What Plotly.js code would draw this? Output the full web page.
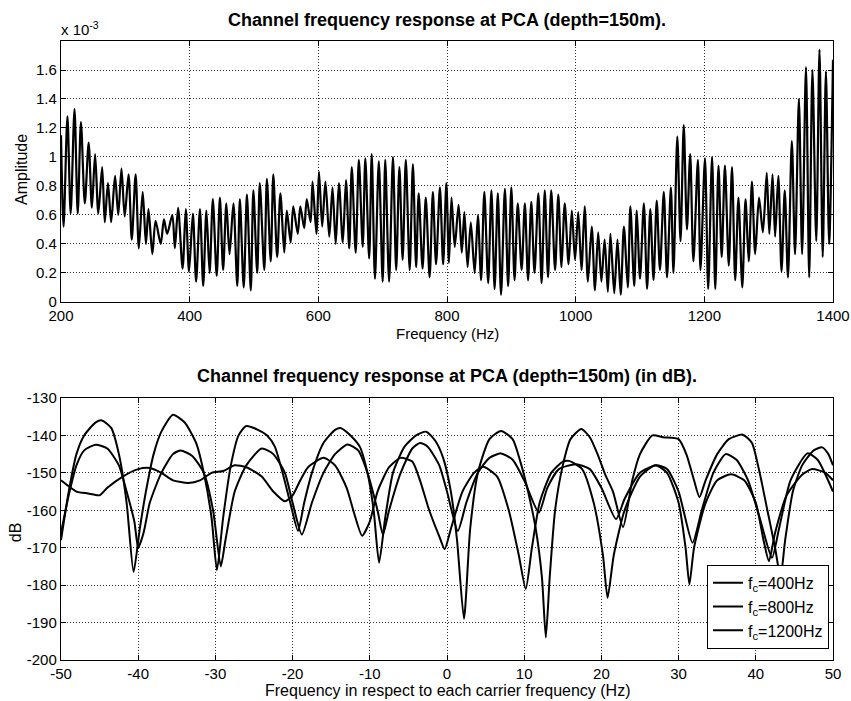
<!DOCTYPE html>
<html>
<head>
<meta charset="utf-8">
<script src="https://cdn.plot.ly/plotly-3.0.1.min.js"></script>
<style>html,body{margin:0;padding:0;background:#fff;}#chart{width:851px;height:701px;}</style>
</head>
<body>
<div id="chart"></div>
<script>
// ---- Top panel: amplitude (x 10^-3) vs frequency, read peak/trough by peak/trough ----
const topFreq = [200,204,210,215,221,226,231,237,243,248,253,258,264,268,273,278,284,289,294,299,305,310,316,321,327,332,336,342,347,355,360,365,373,377,382,389,394,399,
405,410,416,421,426,431,436,442,447,452,457,462,468,474,478,484,489,495,499,505,509,516,520,526,530,536,541,547,551,557,561,568,572,578,582,588,591,597,601,
606,611,617,622,627,632,638,643,648,652,658,663,669,673,679,683,688,694,700,704,710,716,721,726,731,736,742,747,752,756,762,767,773,778,783,789,794,799,803,
807,812,818,823,827,832,837,843,848,853,858,864,869,874,879,884,890,895,900,905,910,916,921,926,931,936,942,947,952,957,962,968,973,978,983,989,994,999,1004,
1009,1014,1019,1025,1030,1035,1040,1045,1050,1054,1060,1065,1070,1075,1081,1085,1091,1095,1100,1106,1111,1116,1121,1126,1131,1137,1142,1148,1152,1158,1163,1168,1173,1178,1183,1190,1194,1201,
1206,1212,1217,1222,1227,1232,1238,1243,1248,1253,1259,1264,1269,1274,1279,1285,1291,1297,1301,1306,1310,1315,1320,1325,1330,1336,1341,1347,1352,1358,1363,1368,1374,1379,1384,1389,1394,1400];
const topAmp = [1.15,0.52,1.28,0.61,1.33,0.61,1.24,0.68,1.10,0.65,1.02,0.61,0.93,0.55,0.82,0.55,0.87,0.60,0.92,0.59,0.88,0.43,0.88,0.37,0.76,0.40,0.64,0.33,0.56,0.40,0.57,0.47,0.60,0.37,0.65,0.23,0.64,0.21,
0.61,0.14,0.64,0.11,0.63,0.20,0.71,0.18,0.72,0.22,0.68,0.33,0.68,0.11,0.71,0.10,0.74,0.08,0.77,0.20,0.82,0.22,0.85,0.28,0.88,0.31,0.75,0.34,0.63,0.41,0.66,0.47,0.66,0.51,0.71,0.55,0.83,0.47,0.90,
0.52,0.83,0.45,0.79,0.40,0.82,0.41,0.84,0.37,0.93,0.34,0.98,0.38,0.99,0.30,1.02,0.16,0.97,0.14,0.98,0.14,1.00,0.22,0.93,0.29,0.98,0.22,0.95,0.24,0.75,0.23,0.72,0.17,0.76,0.26,0.79,0.26,0.82,0.27,
0.72,0.38,0.67,0.34,0.62,0.24,0.55,0.20,0.60,0.15,0.76,0.13,0.77,0.09,0.75,0.05,0.78,0.11,0.79,0.15,0.68,0.22,0.68,0.15,0.69,0.20,0.75,0.13,0.77,0.17,0.77,0.22,0.74,0.24,0.68,0.26,0.63,0.29,0.62,
0.22,0.66,0.14,0.52,0.08,0.48,0.14,0.43,0.07,0.47,0.06,0.43,0.05,0.52,0.10,0.66,0.11,0.63,0.16,0.68,0.09,0.64,0.15,0.70,0.22,0.76,0.17,0.79,0.20,1.14,0.42,1.22,0.50,1.02,0.28,0.98,0.22,0.99,
0.09,1.00,0.09,0.94,0.31,0.94,0.25,0.93,0.15,0.72,0.10,0.71,0.28,0.83,0.33,0.72,0.48,0.89,0.47,0.88,0.45,0.87,0.21,0.77,0.17,1.11,0.33,1.40,0.33,1.62,0.17,1.60,0.42,1.74,0.31,1.59,0.40,1.67];
const topXTicks = [200,400,600,800,1000,1200,1400];
const topYTicks = [0,0.2,0.4,0.6,0.8,1,1.2,1.4,1.6];
const topYTickText = ['0','0.2','0.4','0.6','0.8','1','1.2','1.4','1.6'];

// ---- Bottom panel: dB vs offset from carrier ----
const seriesNames = ['f<sub>c</sub>=400Hz','f<sub>c</sub>=800Hz','f<sub>c</sub>=1200Hz'];
const off400 = [-50,-48,-46.5,-45,-44,-42,-40,-38.5,-37,-35.5,-33.5,-32,-30.5,-29,-27.5,-26,-24,-22.5,-21,-20,-19,-18,-16,-14.5,-13,-12,-11,-10,-9,-7.5,-6,-4.5,-3.5,-2.3,-1,-0.3,0.5,2,3.5,4.7,6.5,8,9.3,10.2,11,12,13.5,15,15.8,17.5,19,20.2,20.8,21.6,23,25,27,28.5,30,30.9,31.4,32,33.5,35,36.8,38.5,40,41,41.7,42.5,44,46,47.3,49,50];
const db400 = [-152,-155,-155.5,-156,-154,-151,-149,-148.7,-150,-152,-152.7,-152,-150,-149.5,-148,-148.5,-151,-155,-157.6,-156,-152,-148.5,-146,-148,-154,-161,-166.8,-163,-155,-148.5,-146,-147,-152,-160,-167,-170.4,-165,-155,-150,-148.4,-151,-160,-172,-181,-170,-158,-150,-147,-146.8,-149,-158,-172,-183.4,-172,-160,-151,-148,-150,-158,-170,-179.8,-170,-158,-152,-150.4,-152,-158,-168,-173.6,-166,-156,-150.5,-149,-150,-152];
const off800 = [-50,-49,-48,-47,-45.5,-44,-42.5,-41.5,-40.5,-40,-39.3,-38.5,-37,-35.5,-34.5,-33,-31.5,-30.3,-29.3,-28.7,-27.5,-26,-24,-22.5,-21,-20,-18.8,-17.5,-16,-14.5,-12.9,-11.5,-10.3,-9,-8.3,-7.5,-6,-4.5,-3.5,-2.5,-1,0,1.4,2.5,4,5.5,7,8.5,10,11.9,13,14.5,16.7,18.5,20,21.9,23,25,27.1,28.5,30,31.8,33,34.5,36.1,37.5,39,40.5,42.1,43,44.5,46.7,48,50];
const db800 = [-166,-156,-148,-144,-142.5,-143.5,-148,-155,-163,-170,-166,-158,-150,-145,-144,-145.5,-150,-160,-175,-168,-155,-148,-143.5,-145,-150,-158,-166.5,-158,-150,-145,-142.4,-144,-150,-160,-166.5,-160,-150,-143.5,-142,-143,-148,-155,-165.5,-158,-150,-146,-144.8,-146.5,-152,-160.6,-154,-149,-147.7,-149,-154,-162.4,-157,-150,-148,-149,-155,-168.7,-160,-150,-145,-146.5,-152,-162,-172.7,-165,-152,-144.8,-146.5,-155];
const off1200 = [-50,-49,-48,-47,-45.5,-44.7,-43.5,-42.5,-41.5,-40.6,-39.8,-39,-38,-37,-35.5,-34,-32.5,-31.5,-30.5,-29.8,-29,-28,-27,-26,-24.5,-23.3,-22.3,-21.3,-20.3,-19.3,-18.5,-17.5,-16,-14.5,-13.8,-12.5,-11.3,-10.3,-9.5,-8.8,-8,-7,-5.5,-4,-2.7,-1.5,-0.5,0.5,1.3,2.2,3,4,5.5,7,8.5,9.5,10.5,11.5,12.3,12.8,13.3,14,15,16,17.4,18.5,19.5,20.5,21.5,22.8,24,25,26.6,28,30,31,32,32.7,33.5,35,36.5,38.3,39.5,40.5,41.5,42.5,43.2,43.8,44.8,46,47.5,48.6,49.4,50];
const db1200 = [-168,-155,-145,-140,-136.5,-136,-138,-145,-158,-176.5,-165,-155,-145,-139,-134.5,-136.5,-142,-150,-162,-176,-162,-148,-140,-137.5,-138.5,-140,-143,-150,-158,-165.5,-158,-150,-142,-138.5,-138,-140,-143,-150,-160,-174,-162,-150,-143,-140,-139,-141.5,-146,-155,-168,-189,-165,-150,-141,-138.8,-141,-147,-155,-165,-178,-194,-178,-160,-148,-141,-138.3,-140.5,-145,-150.5,-155,-164.5,-152,-145,-140,-140.5,-141,-145,-152,-156.5,-152,-145,-141,-139.8,-142,-150,-160,-170,-178,-168,-155,-148,-144,-143.2,-145,-148];
const botXTicks = [-50,-40,-30,-20,-10,0,10,20,30,40,50];
const botXTickText = ['-50','-40','-30','-20','-10','0','10','20','30','40','50'];
const botYTicks = [-200,-190,-180,-170,-160,-150,-140,-130];
const botYTickText = ['-200','-190','-180','-170','-160','-150','-140','-130'];

const FONT = 'Liberation Sans, Arial, Helvetica, sans-serif';
const axisCommon = {
  showline: true, linecolor: '#000', linewidth: 1.2, mirror: 'allticks',
  ticks: 'inside', ticklen: 5, tickcolor: '#000', tickwidth: 1,
  showgrid: true, gridcolor: '#333', gridwidth: 1, griddash: '1px,2px',
  zeroline: false, tickfont: {family: FONT, size: 15, color: '#000'}
};

const traces = [
  {x: topFreq, y: topAmp, xaxis: 'x', yaxis: 'y', mode: 'lines', showlegend: false,
   line: {color: '#000', width: 2.2, shape: 'spline', smoothing: 0.8}},
  {x: off400, y: db400, xaxis: 'x2', yaxis: 'y2', mode: 'lines', name: seriesNames[0],
   line: {color: '#000', width: 2, shape: 'spline', smoothing: 0.6}},
  {x: off800, y: db800, xaxis: 'x2', yaxis: 'y2', mode: 'lines', name: seriesNames[1],
   line: {color: '#000', width: 2, shape: 'spline', smoothing: 0.6}},
  {x: off1200, y: db1200, xaxis: 'x2', yaxis: 'y2', mode: 'lines', name: seriesNames[2],
   line: {color: '#000', width: 2, shape: 'spline', smoothing: 0.6}}
];

const layout = {
  width: 851, height: 701,
  paper_bgcolor: '#fff', plot_bgcolor: '#fff',
  margin: {l: 61, r: 18, t: 41, b: 41},
  font: {family: FONT, size: 14, color: '#000'},
  xaxis: Object.assign({}, axisCommon, {domain: [0, 1], anchor: 'y', range: [200, 1400], tickvals: topXTicks}),
  yaxis: Object.assign({}, axisCommon, {domain: [0.5784, 1], anchor: 'x', range: [0, 1.8], tickvals: topYTicks, ticktext: topYTickText}),
  xaxis2: Object.assign({}, axisCommon, {domain: [0, 1], anchor: 'y2', range: [-50, 50], tickvals: botXTicks, ticktext: botXTickText}),
  yaxis2: Object.assign({}, axisCommon, {domain: [0, 0.4233], anchor: 'x2', range: [-200, -130], tickvals: botYTicks, ticktext: botYTickText}),
  showlegend: true,
  legend: {x: 0.9948, xanchor: 'right', y: 0.018, yanchor: 'bottom', bgcolor: '#fff',
           bordercolor: '#000', borderwidth: 1, font: {family: FONT, size: 16, color: '#000'},
           tracegroupgap: 0},
  annotations: [
    {text: '<b>Channel frequency response at PCA (depth=150m).</b>', xref: 'paper', yref: 'paper',
     x: 0.5, y: 1.034, xanchor: 'center', yanchor: 'middle', showarrow: false, font: {family: FONT, size: 18}},
    {text: '<b>Channel frequency response at PCA (depth=150m) (in dB).</b>', xref: 'paper', yref: 'paper',
     x: 0.5, y: 0.4588, xanchor: 'center', yanchor: 'middle', showarrow: false, font: {family: FONT, size: 18}},
    {text: 'Frequency (Hz)', xref: 'paper', yref: 'paper', x: 0.5, y: 0.528,
     xanchor: 'center', yanchor: 'middle', showarrow: false, font: {family: FONT, size: 15}},
    {text: 'Frequency in respect to each carrier frequency (Hz)', xref: 'paper', yref: 'paper', x: 0.5, y: -0.0485,
     xanchor: 'center', yanchor: 'middle', showarrow: false, font: {family: FONT, size: 16}},
    {text: 'Amplitude', xref: 'paper', yref: 'paper', x: -0.0505, y: 0.7916, textangle: -90,
     xanchor: 'center', yanchor: 'middle', showarrow: false, font: {family: FONT, size: 16}},
    {text: 'dB', xref: 'paper', yref: 'paper', x: -0.058, y: 0.2068, textangle: -90,
     xanchor: 'center', yanchor: 'middle', showarrow: false, font: {family: FONT, size: 16}},
    {text: 'x 10<sup>-3</sup>', xref: 'paper', yref: 'paper', x: -0.002, y: 1.02,
     xanchor: 'left', yanchor: 'middle', showarrow: false, font: {family: FONT, size: 15}}
  ]
};

Plotly.newPlot('chart', traces, layout, {displayModeBar: false, staticPlot: true});
</script>
</body>
</html>
